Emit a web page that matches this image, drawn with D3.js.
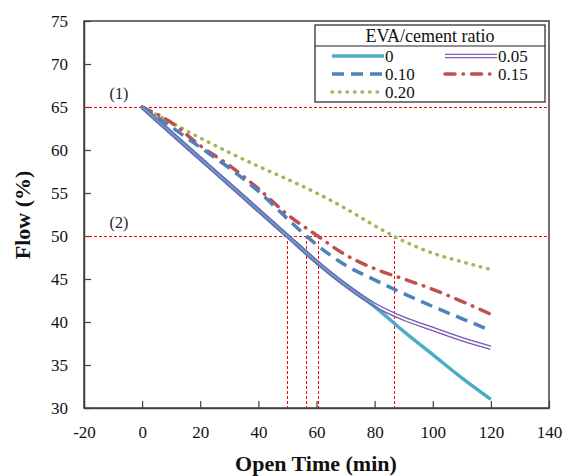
<!DOCTYPE html>
<html><head><meta charset="utf-8">
<script src="https://cdn.jsdelivr.net/npm/d3@7"></script>
<style>body{margin:0;background:#fff}svg{display:block}svg text{font-family:"Liberation Serif","Times New Roman",serif !important}</style>
</head><body><svg id="c" width="565" height="476"></svg>
<script>
const times = [0,10,20,30,40,50,60,70,80,90,100,110,120];
const seriesNames = ["0","0.05","0.10","0.15","0.20"];
const s0   = [65,62,59,56,53,50,47,44.3,41.8,38.9,36.2,33.5,31];
const s005 = [65,62,59,56,53,50,47,44.3,42,40.4,39.2,38,37];
const s010 = [65,62.7,60.3,57.9,55.2,52,49,46.6,44.9,43.3,41.8,40.4,39];
const s015 = [65,63.2,60.5,58.2,55.5,52.5,50.1,47.8,46.2,45,43.8,42.4,40.9];
const s020 = [65,63.2,61.4,59.7,58.1,56.6,55,53.2,51.2,49.4,48.0,47.0,46.1];
const xTicks = [-20,0,20,40,60,80,100,120,140];
const yTicks = [30,35,40,45,50,55,60,65,70,75];
const refLevels = [65,50];
const refLabels = ["(1)","(2)"];
const crossTimes = [50,56.5,60.5,86.5];

const svg = d3.select("#c");
const L=84,R=549,T=21,B=408;
const x = d3.scaleLinear().domain([-20,140]).range([L,R]);
const y = d3.scaleLinear().domain([30,75]).range([B,T]);

svg.append("rect").attr("x",L).attr("y",T).attr("width",R-L).attr("height",B-T)
  .attr("fill","none").attr("stroke","#404040").attr("stroke-width",1.5);

const xa = svg.append("g").attr("transform",`translate(0,${B})`)
  .call(d3.axisBottom(x).tickValues(xTicks).tickFormat(d=>String(d)).tickSizeInner(-7).tickSizeOuter(0).tickPadding(18));
const ya = svg.append("g").attr("transform",`translate(${L},0)`)
  .call(d3.axisLeft(y).tickValues(yTicks).tickFormat(d=>String(d)).tickSizeInner(-7).tickSizeOuter(0).tickPadding(16));
[xa,ya].forEach(a=>{
  a.attr("font-family","Liberation Serif");
  a.select(".domain").attr("stroke","#404040").attr("stroke-width",1.5);
  a.selectAll(".tick line").attr("stroke","#404040").attr("stroke-width",1.2);
  a.selectAll("text").attr("font-size",17).attr("fill","#111");
});

refLevels.forEach(v=>{
  const yy=Math.round(y(v))+0.5;
  svg.append("line").attr("x1",L).attr("x2",R).attr("y1",yy).attr("y2",yy)
    .attr("stroke","#ff0000").attr("stroke-width",1).attr("stroke-dasharray","3,2");
});
crossTimes.forEach(t=>{
  const xx=Math.round(x(t))+0.5;
  svg.append("line").attr("x1",xx).attr("x2",xx).attr("y1",y(50)).attr("y2",y(30))
    .attr("stroke","#ff0000").attr("stroke-width",1).attr("stroke-dasharray","3,2");
});
refLabels.forEach((lab,i)=>{
  svg.append("text").attr("x",x(-8)).attr("y",y(refLevels[i])-8).attr("text-anchor","middle")
    .attr("font-size",16).attr("fill","#222").text(lab);
});

const line = d3.line().x((d,i)=>x(times[i])).y(d=>y(d)).curve(d3.curveMonotoneX);

const defs = svg.append("defs");
const mask = defs.append("mask").attr("id","dbl").attr("maskUnits","userSpaceOnUse")
  .attr("x",0).attr("y",0).attr("width",565).attr("height",476);
mask.append("path").attr("d",line(s005)).attr("fill","none").attr("stroke","#fff").attr("stroke-width",5);
mask.append("path").attr("d",line(s005)).attr("fill","none").attr("stroke","#000").attr("stroke-width",1.8);

const styles = [
  {c:"#4bacc6",w:3.5,dash:null,cap:"butt"},
  {c:"#7f5fb0",w:5,dash:null,cap:"butt",mask:true},
  {c:"#4f81bd",w:3.5,dash:"12,7",cap:"butt"},
  {c:"#c0504d",w:3.5,dash:"10,8,0.5,8",cap:"round"},
  {c:"#9bbb59",w:3.5,dash:"0.5,7",cap:"round"}
];
const data = [s0,s005,s010,s015,s020];
[4,3,2,0,1].forEach(i=>{
  const st=styles[i];
  const p = svg.append("path").attr("d",line(data[i])).attr("fill","none")
    .attr("stroke",st.c).attr("stroke-width",st.w).attr("stroke-linecap",st.cap);
  if(st.dash) p.attr("stroke-dasharray",st.dash);
  if(st.mask) p.attr("mask","url(#dbl)");
});

const lg = svg.append("g");
lg.append("rect").attr("x",315).attr("y",25).attr("width",230).attr("height",77)
  .attr("fill","#fff").attr("stroke","#222").attr("stroke-width",1.2);
lg.append("line").attr("x1",315).attr("x2",545).attr("y1",46).attr("y2",46).attr("stroke","#222").attr("stroke-width",1);
lg.append("text").attr("x",430).attr("y",42).attr("text-anchor","middle").attr("font-size",18).attr("fill","#111").text("EVA/cement ratio");
const pos = [[332,56],[445,56],[332,74],[445,74],[332,92]];
const lgMask = defs.append("mask").attr("id","dblL").attr("maskUnits","userSpaceOnUse")
  .attr("x",0).attr("y",0).attr("width",565).attr("height",476);
lgMask.append("line").attr("x1",445).attr("x2",497).attr("y1",56).attr("y2",56).attr("stroke","#fff").attr("stroke-width",5);
lgMask.append("line").attr("x1",445).attr("x2",497).attr("y1",56).attr("y2",56).attr("stroke","#000").attr("stroke-width",1.8);
seriesNames.forEach((n,i)=>{
  const st=styles[i],[px,py]=pos[i];
  const l = lg.append("line").attr("x1",px).attr("x2",px+52).attr("y1",py).attr("y2",py)
    .attr("stroke",st.c).attr("stroke-width",st.w).attr("stroke-linecap",st.cap);
  if(st.dash) l.attr("stroke-dasharray",st.dash);
  if(st.mask) l.attr("mask","url(#dblL)");
  lg.append("text").attr("x",px+53).attr("y",py+6).attr("font-size",17).attr("fill","#111").text(n);
});

svg.append("text").attr("x",316).attr("y",471).attr("text-anchor","middle").attr("font-size",22)
  .attr("font-weight","bold").attr("fill","#111").text("Open Time (min)");
svg.append("text").attr("transform","translate(30,215) rotate(-90)").attr("text-anchor","middle")
  .attr("font-size",22).attr("font-weight","bold").attr("fill","#111").text("Flow (%)");
</script></body></html>
